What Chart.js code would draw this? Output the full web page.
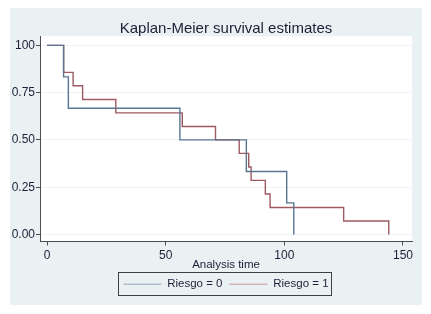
<!DOCTYPE html>
<html>
<head>
<meta charset="utf-8">
<script src="https://cdn.jsdelivr.net/npm/chart.js@4/dist/chart.umd.min.js"></script>
<style>
  html, body { margin: 0; padding: 0; background: #ffffff; }
  #wrap { width: 431px; height: 314px; }
</style>
</head>
<body>
<div id="wrap"><canvas id="kmCanvas" width="431" height="314"></canvas></div>
<script>
// survival steps, Riesgo = 0
const times0 = [0, 7, 9, 56, 84, 101, 104];
const surv0 = [1, 0.833, 0.667, 0.5, 0.333, 0.167, 0];

// survival steps, Riesgo = 1
const times1 = [0, 7, 11, 15, 29, 57, 71, 81, 85, 86, 92, 94, 125, 144];
const surv1 = [1, 0.857, 0.786, 0.714, 0.643, 0.571, 0.5, 0.429, 0.357, 0.286, 0.214, 0.143, 0.071, 0];

const seriesLabels = ['Riesgo = 0', 'Riesgo = 1'];
const xTicks = [0, 50, 100, 150];
const yTicks = [0, 0.25, 0.5, 0.75, 1];
const yTickLabels = ['0.00', '0.25', '0.50', '0.75', '100'];

const FONT = '"Liberation Sans", Arial, sans-serif';
const TEXT = '#1b2038';
const AXIS = '#4a4f55';
const LINE_COLORS = ['#5a7490', '#9e5a62'];
const LEGEND_COLORS = ['#b3bec8', '#d3b3b7'];

const toPoints = (xs, ys) => xs.map((x, i) => ({ x, y: ys[i] }));

/**
 * paints the stata-like backdrop: grey panel, white plot region
 */
const backdrop = {
  id: 'backdrop',
  beforeDraw(chart) {
    const { ctx, chartArea } = chart;
    ctx.save();
    ctx.fillStyle = '#ffffff';
    ctx.fillRect(0, 0, chart.width, chart.height);
    ctx.fillStyle = '#e9f1f2';
    ctx.fillRect(10, 8, 412, 297);
    ctx.fillStyle = '#ffffff';
    ctx.fillRect(chartArea.left, chartArea.top, chartArea.right - chartArea.left, chartArea.bottom - chartArea.top);
    ctx.restore();
  },
};

/**
 * frame round the legend items
 */
const legendFrame = {
  id: 'legendFrame',
  afterDraw(chart) {
    const boxes = chart.legend && chart.legend.legendHitBoxes;
    if (!boxes || !boxes.length) return;
    const left = Math.min(...boxes.map(b => b.left)) - 5;
    const right = Math.max(...boxes.map(b => b.left + b.width)) + 3;
    const top = Math.min(...boxes.map(b => b.top)) - 7;
    const bottom = Math.max(...boxes.map(b => b.top + b.height)) + 4;
    const { ctx } = chart;
    ctx.save();
    ctx.strokeStyle = '#3c3f44';
    ctx.lineWidth = 1;
    ctx.strokeRect(Math.round(left) + 0.5, Math.round(top) + 0.5, Math.round(right - left), Math.round(bottom - top));
    ctx.restore();
  },
};

const ctx = document.getElementById('kmCanvas').getContext('2d');

new Chart(ctx, {
  type: 'line',
  data: {
    datasets: [
      {
        label: seriesLabels[0],
        data: toPoints(times0, surv0),
        borderColor: LINE_COLORS[0],
        backgroundColor: LINE_COLORS[0],
        borderWidth: 1.4,
        stepped: 'before',
        pointRadius: 0,
        fill: false,
      },
      {
        label: seriesLabels[1],
        data: toPoints(times1, surv1),
        borderColor: LINE_COLORS[1],
        backgroundColor: LINE_COLORS[1],
        borderWidth: 1.4,
        stepped: 'before',
        pointRadius: 0,
        fill: false,
      },
    ],
  },
  options: {
    responsive: false,
    animation: false,
    layout: { padding: { left: 10, right: 19, top: 8, bottom: 14 } },
    scales: {
      x: {
        type: 'linear',
        min: -2.95,
        max: 153.8,
        afterBuildTicks(scale) {
          scale.ticks = xTicks.map(value => ({ value }));
        },
        afterFit(scale) {
          scale.height = 30;
        },
        border: { display: true, color: AXIS, width: 1 },
        grid: { drawOnChartArea: false, tickLength: 4, tickColor: AXIS },
        ticks: { padding: 3, color: TEXT, font: { family: FONT, size: 12 }, maxRotation: 0 },
        title: {
          display: true,
          text: 'Analysis time',
          color: TEXT,
          font: { family: FONT, size: 11.5 },
          padding: { top: 0, bottom: 0 },
        },
      },
      y: {
        type: 'linear',
        min: -0.037,
        max: 1.048,
        afterBuildTicks(scale) {
          scale.ticks = yTicks.map(value => ({ value }));
        },
        afterFit(scale) {
          scale.width = 30;
        },
        border: { display: true, color: AXIS, width: 1 },
        grid: { color: '#eef3f4', tickLength: 4, tickColor: AXIS },
        ticks: {
          padding: 1,
          color: TEXT,
          font: { family: FONT, size: 12 },
          callback(value) {
            const i = yTicks.indexOf(value);
            return i >= 0 ? yTickLabels[i] : '';
          },
        },
      },
    },
    plugins: {
      title: {
        display: true,
        fullSize: false,
        text: 'Kaplan-Meier survival estimates',
        color: TEXT,
        font: { family: FONT, size: 15, weight: 'normal', lineHeight: 0.95 },
        padding: { top: 14, bottom: 0 },
      },
      legend: {
        position: 'bottom',
        fullSize: false,
        labels: {
          usePointStyle: true,
          pointStyleWidth: 38,
          color: TEXT,
          font: { family: FONT, size: 11.5 },
          padding: 7,
          generateLabels(chart) {
            return chart.data.datasets.map((ds, i) => ({
              text: ds.label,
              pointStyle: 'line',
              strokeStyle: LEGEND_COLORS[i],
              fillStyle: LEGEND_COLORS[i],
              lineWidth: 1.5,
              fontColor: TEXT,
              datasetIndex: i,
              hidden: false,
            }));
          },
        },
      },
      tooltip: { enabled: false },
    },
  },
  plugins: [backdrop, legendFrame],
});
</script>
</body>
</html>
